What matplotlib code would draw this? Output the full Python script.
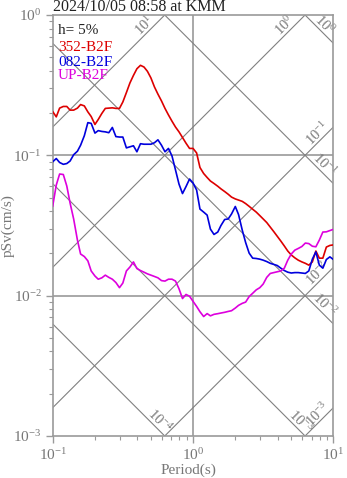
import numpy as np
import matplotlib
matplotlib.use('Agg')
import matplotlib.pyplot as plt
from matplotlib.ticker import LogLocator, LogFormatterSciNotation, NullFormatter

plt.rcParams['font.family'] = 'Liberation Serif'
plt.rcParams['mathtext.fontset'] = 'custom'
plt.rcParams['mathtext.rm'] = 'Liberation Serif'
plt.rcParams['mathtext.it'] = 'Liberation Serif:italic'

title = '2024/10/05 08:58 at KMM'
damping = 'h= 5%'
names = ['352-B2F', '082-B2F', 'UP-B2F']
colors = ['#dd0000', '#0000dd', '#dd00dd']

# periods (s)
periods = [0.1, 0.106, 0.112, 0.119, 0.126, 0.133, 0.141, 0.150, 0.158, 0.168,
           0.178, 0.188, 0.2, 0.211, 0.224, 0.237, 0.251, 0.266, 0.282, 0.299,
           0.316, 0.335, 0.355, 0.376, 0.398, 0.422, 0.447, 0.473, 0.501, 0.531,
           0.562, 0.596, 0.631, 0.668, 0.708, 0.750, 0.794, 0.841, 0.891, 0.944,
           1.0, 1.06, 1.12, 1.19, 1.26, 1.33, 1.41, 1.50, 1.58, 1.68,
           1.78, 1.88, 2.0, 2.11, 2.24, 2.37, 2.51, 2.66, 2.82, 2.99,
           3.16, 3.35, 3.55, 3.76, 3.98, 4.22, 4.47, 4.73, 5.01, 5.31,
           5.62, 5.96, 6.31, 6.68, 7.08, 7.50, 7.94, 8.41, 8.91, 9.44, 10.0]

# pseudo velocity response (cm/s)
sv_352 = [0.205, 0.188, 0.217, 0.223, 0.223, 0.210, 0.210, 0.217, 0.230, 0.225,
          0.204, 0.189, 0.166, 0.180, 0.199, 0.216, 0.217, 0.218, 0.216, 0.216,
          0.240, 0.280, 0.328, 0.371, 0.414, 0.438, 0.426, 0.397, 0.356, 0.307,
          0.273, 0.244, 0.216, 0.194, 0.175, 0.159, 0.147, 0.134, 0.122, 0.112,
          0.112, 0.104, 0.0819, 0.0742, 0.0695, 0.0656, 0.0630, 0.0602, 0.0577, 0.0552,
          0.0528, 0.0504, 0.0489, 0.0480, 0.0470, 0.0453, 0.0433, 0.0413, 0.0394, 0.0372,
          0.0352, 0.0332, 0.0308, 0.0286, 0.0265, 0.0245, 0.0226, 0.0208, 0.0195, 0.0186,
          0.0179, 0.0174, 0.0170, 0.0165, 0.0174, 0.0208, 0.0185, 0.0185, 0.0222, 0.0228, 0.0230]

sv_082 = [0.0900, 0.0949, 0.0889, 0.0863, 0.0874, 0.0911, 0.101, 0.107, 0.118, 0.138,
          0.171, 0.169, 0.144, 0.150, 0.148, 0.147, 0.145, 0.158, 0.136, 0.135,
          0.135, 0.113, 0.115, 0.117, 0.106, 0.121, 0.120, 0.120, 0.120, 0.123,
          0.129, 0.118, 0.106, 0.112, 0.0989, 0.0786, 0.0624, 0.0534, 0.0599, 0.0678,
          0.0635, 0.0566, 0.0414, 0.0394, 0.0375, 0.0298, 0.0273, 0.0284, 0.0316, 0.0349,
          0.0352, 0.0382, 0.0432, 0.0378, 0.0294, 0.0239, 0.0201, 0.0185, 0.0184, 0.0182,
          0.0179, 0.0175, 0.0170, 0.0167, 0.0164, 0.0157, 0.0151, 0.0147, 0.0145, 0.0146,
          0.0146, 0.0145, 0.0144, 0.0150, 0.0182, 0.0205, 0.0165, 0.0157, 0.0181, 0.0189, 0.0181]

sv_up = [0.0435, 0.0614, 0.0736, 0.0730, 0.0604, 0.0457, 0.0352, 0.0249, 0.0198, 0.0190,
         0.0177, 0.0150, 0.0138, 0.0131, 0.0134, 0.0140, 0.0135, 0.0131, 0.0124, 0.0114,
         0.0123, 0.0150, 0.0160, 0.0174, 0.0156, 0.0151, 0.0147, 0.0143, 0.0140, 0.0137,
         0.0134, 0.0128, 0.0127, 0.0131, 0.0131, 0.0127, 0.0112, 0.00954, 0.0102, 0.00990,
         0.00911, 0.00838, 0.00768, 0.00710, 0.00745, 0.00718, 0.00736, 0.00744, 0.00752, 0.00761,
         0.00772, 0.00781, 0.00816, 0.00853, 0.00881, 0.00900, 0.00985, 0.0104, 0.0110, 0.0114,
         0.0121, 0.0135, 0.0144, 0.0146, 0.0148, 0.0150, 0.0157, 0.0179, 0.0198, 0.0211,
         0.0217, 0.0224, 0.0237, 0.0235, 0.0225, 0.0223, 0.0249, 0.0284, 0.0285, 0.0291, 0.0297]

# tripartite grid levels: acceleration (cm/s^2) and displacement (cm)
acc_levels = [1e1, 1e0, 1e-1, 1e-2, 1e-3]
disp_levels = [1e0, 1e-1, 1e-2, 1e-3, 1e-4]

gray = '#777777'
grid_gray = '#9a9a9a'

fig = plt.figure(figsize=(3.47, 4.78), dpi=100)
ax = fig.add_axes([0.1519, 0.0879, 0.8089, 0.8807])
ax.set_xscale('log')
ax.set_yscale('log')
ax.set_xlim(0.1, 10)
ax.set_ylim(1e-3, 1)

for v in [1e-1, 1e-2]:
    ax.axhline(v, color=grid_gray, lw=1.2, zorder=1)
ax.axvline(1.0, color=grid_gray, lw=1.2, zorder=1)

tt = np.array([0.1, 10.0])
for a in acc_levels:
    c = np.log10(a / (2 * np.pi))
    ax.plot(tt, a * tt / (2 * np.pi), color='#808080', lw=0.8, zorder=1)
    # label sits just inside where the line leaves the frame
    if -c <= 1:
        ex, ey, s = -c, 0.0, 0.11
    else:
        ex, ey, s = 1.0, 1 + c, 0.08
    ax.annotate(r'$10^{%d}$' % round(np.log10(a)), (10 ** (ex - s), 10 ** (ey - s)),
                xytext=(-3.5, 3.5), textcoords='offset points', rotation=45,
                rotation_mode='anchor', ha='center', va='center', fontsize=10.5,
                color=gray, annotation_clip=False, zorder=2)
for d in disp_levels:
    c = np.log10(2 * np.pi * d)
    ax.plot(tt, 2 * np.pi * d / tt, color='#808080', lw=0.8, zorder=1)
    if c - 1 >= -3:
        ex, ey, s = 1.0, c - 1, 0.1
    else:
        ex, ey, s = c + 3, -3.0, 0.07
    ax.annotate(r'$10^{%d}$' % round(np.log10(d)), (10 ** (ex - s), 10 ** (ey + s)),
                xytext=(3.5, 3.5), textcoords='offset points', rotation=-45,
                rotation_mode='anchor', ha='center', va='center', fontsize=10.5,
                color=gray, annotation_clip=False, zorder=2)

for sv, col in zip([sv_352, sv_082, sv_up], colors):
    ax.plot(periods, sv, color=col, lw=1.2, zorder=3)

# title and legend text
ax.text(0.0, 1.0 + 4 / 421, title, transform=ax.transAxes, fontsize=11.5,
        va='baseline', ha='left', color='#222222')
ax.text(0.019, 0.955, damping, transform=ax.transAxes, fontsize=11,
        va='baseline', color='#222222')
for name, col, y in zip(names, colors, [0.914, 0.880, 0.847]):
    ax.text(0.019, y, name, transform=ax.transAxes, fontsize=11,
            va='baseline', color=col)

for sp in ax.spines.values():
    sp.set_color(grid_gray)
    sp.set_linewidth(1.2)

for axis in [ax.xaxis, ax.yaxis]:
    axis.set_major_locator(LogLocator(base=10, numticks=10))
    axis.set_major_formatter(LogFormatterSciNotation())
    axis.set_minor_locator(LogLocator(base=10, subs=np.arange(2, 10), numticks=10))
    axis.set_minor_formatter(NullFormatter())
ax.tick_params(which='major', length=5, width=1, color=grid_gray,
               labelcolor=gray, labelsize=11, pad=3)
ax.tick_params(which='minor', length=3, width=0.8, color=grid_gray)

ax.set_xlabel('Period(s)', color=gray, fontsize=11)
ax.set_ylabel('pSv(cm/s)', color=gray, fontsize=11)
ax.xaxis.set_label_coords(0.482, -0.066)
ax.yaxis.set_label_coords(-0.135, 0.5)

fig.savefig('out.png', dpi=100)
